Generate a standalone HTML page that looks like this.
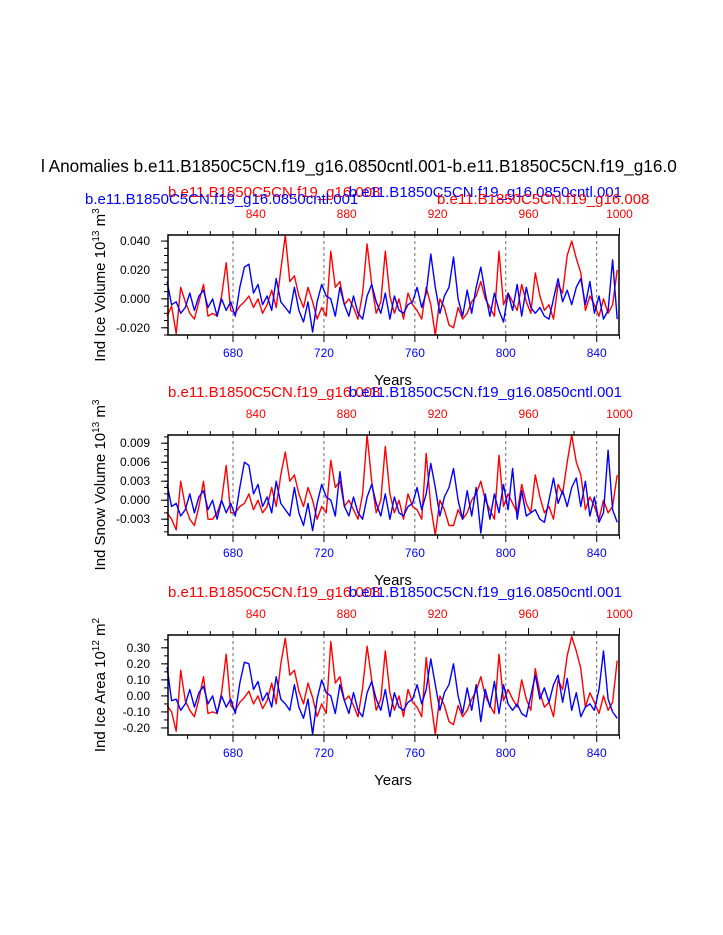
<!DOCTYPE html>
<html><head><meta charset="utf-8"><style>
html,body{margin:0;padding:0;background:#fff;overflow:hidden;width:723px;height:935px}
svg{display:block}
text{font-family:"Liberation Sans",sans-serif}
</style></head><body>
<svg id="chart" width="723" height="935" xmlns="http://www.w3.org/2000/svg"></svg>
<script>
const years = [];
for (let y = 651; y <= 849; y += 2) years.push(y);
const bottomTicks = [680, 720, 760, 800, 840];
const topTicks = [840, 880, 920, 960, 1000];
const topOffset = 150;

const volRed = [-12,-5,-24,8,-2,-10,-14,-2,10,-12,-10,-12,2,25,-8,-10,-5,-2,2,-6,0,-10,-4,6,-6,20,44,12,16,2,-6,8,-2,-14,-6,-12,33,8,12,-4,0,-6,-14,4,38,10,-10,-2,33,2,-10,0,-14,4,-4,-8,-14,8,-4,-25,0,-6,-18,-20,-6,-14,-10,-2,2,12,0,-6,-12,33,-4,4,-2,-8,10,-2,-10,18,2,-8,-4,-14,10,4,30,40,28,18,-8,2,-4,-12,0,-10,-4,20];
const volBlue = [12,-4,-2,-10,-6,4,-8,2,6,-6,0,-12,0,-8,-2,-12,8,22,24,4,10,-4,2,-8,14,-2,-6,-10,8,-8,-16,-2,-23,-2,10,2,0,-12,8,-4,-12,2,-10,-14,2,10,-2,-10,4,-14,2,-8,-10,-4,-2,8,-6,4,31,8,-10,2,8,29,0,-12,6,-10,8,22,4,-12,4,-8,-16,4,-8,10,-12,8,-6,-10,-6,-12,-14,0,14,-2,6,-4,8,14,-4,12,-10,2,-14,-8,27,-14];
const snowRed = [-2,-3,-4.7,3,-1,-3,-4,-1,3,-3,-3,-2,0,5.5,-2,-2,-1,-0.5,1,-1.5,0,-2,-1,2,-1,4,7.6,3,4,1,-1,2,0,-3,-1,-2,6.3,2,3,-1,0,-1.5,-3,1,10.3,3,-2,0,8.5,1,-2,0,-3,1,-1,-1.5,-3,7.4,-1,-5.5,0,-1.5,-4,-4,-1.5,-3,-2,0,1,3,0,-1.5,-3,7.1,-1,1,-0.5,-2,2.5,-0.5,-2,4,0.5,-2,-1,-3,2.5,1,6,10.3,6,4,-1.5,0.5,-1,-3,0,-2,-1,4];
const snowBlue = [2.5,-1,-0.5,-2.5,-1.5,1,-2,0.5,1.5,-1.5,0,-3,0,-2,-0.5,-2.5,2,6,5.5,1,2.5,-1,0.5,-2,3,-0.5,-1.5,-2.5,2,-2,-4,-0.5,-4.8,-0.5,2.5,0.5,0,-2.5,4.5,-1,-2.5,0.5,-2,-3,0.5,2.5,-0.5,-2.5,1,-3,0.5,-2,-2.5,-1,-0.5,2,-1.5,1,5.8,2,-2.5,0.5,2,5,0,-3,1.5,-2.5,2,-5.2,1,-3,1,-2,2.5,-1.5,5,-3,1.5,-2.5,-2,-1.5,-3,-3.5,0,3.5,-0.5,1.5,-1,2,3.5,-1,3,-2.5,0.5,-3.5,-2,7.9,-1.5,-3.5];
const areaRed = [-6,-10,-22,16,-3,-9,-13,-2,12,-11,-10,-11,2,26,-6,-9,-4,-1,3,-5,0,-8,-3,8,-5,20,36,13,16,3,-5,8,-1,-13,-5,-11,34,8,12,-3,0,-6,-13,5,31,10,-9,-2,28,2,-9,0,-13,4,-4,-7,-13,24,-3,-24,0,-6,-16,-18,-6,-13,-9,-2,3,12,0,-6,-11,26,-3,4,-2,-7,10,-2,-9,17,2,-7,-4,-13,10,4,25,37,28,17,-7,2,-4,-11,0,-9,-4,22];
const areaBlue = [18,-3,-2,-9,-5,4,-7,2,6,-5,0,-11,0,-7,-2,-11,8,21,20,4,9,-3,2,-7,12,-2,-5,-9,7,-7,-14,-2,-24,-2,10,2,0,-11,7,-3,-11,2,-9,-13,2,9,-2,-9,4,-13,2,-7,-9,-4,-2,7,-5,4,23,7,-9,2,7,20,0,-11,5,-9,7,-16,4,-7,9,-11,7,-5,-9,-5,-11,-13,0,13,-2,5,-4,7,13,-4,11,-9,2,-13,-7,-5,-9,4,28,-2,-10,-14];

const volTicks = ["-0.020","0.000","0.020","0.040"];
const snowTicks = ["-0.003","0.000","0.003","0.006","0.009"];
const areaTicks = ["-0.20","-0.10","0.00","0.10","0.20","0.30"];

const NS = "http://www.w3.org/2000/svg";
const svg = document.getElementById("chart");
function mk(tag, attrs, parent) {
  const e = document.createElementNS(NS, tag);
  for (const k in attrs) e.setAttribute(k, attrs[k]);
  (parent || svg).appendChild(e);
  return e;
}
const X0 = 168, X1 = 619, YR0 = 651.4, YR1 = 849.8;
function xScale(yr) { return X0 + (yr - YR0) / (YR1 - YR0) * (X1 - X0); }

const title = mk("text", {x: 41, y: 172, "font-size": 17.2, fill: "#000"});
title.textContent = "l Anomalies b.e11.B1850C5CN.f19_g16.0850cntl.001-b.e11.B1850C5CN.f19_g16.0";



const panels = [
  {top: 235, name: "ice-volume", red: volRed, blue: volBlue, unit: 0.001, ymin: -0.025, ymax: 0.0442, ticks: volTicks, minorStep: 0.005, label: ["Ind Ice Volume 10", "13", " m", "3"], first: true},
  {top: 435, name: "snow-volume", red: snowRed, blue: snowBlue, unit: 0.001, ymin: -0.0055, ymax: 0.0103, ticks: snowTicks, minorStep: 0.001, label: ["Ind Snow Volume 10", "13", " m", "3"]},
  {top: 635, name: "ice-area", red: areaRed, blue: areaBlue, unit: 0.01, ymin: -0.244, ymax: 0.38, ticks: areaTicks, minorStep: 0.05, label: ["Ind Ice Area 10", "12", " m", "2"]}
];

panels.forEach(p => {
  const g = mk("g", {});
  
  
  const T = p.top, B = p.top + 100;
  const yS = v => B - (v - p.ymin) / (p.ymax - p.ymin) * 100;

  bottomTicks.forEach(t => {
    const l = mk("line", {x1: xScale(t), x2: xScale(t), y1: T, y2: B, stroke: "#444", "stroke-width": 0.8, "stroke-dasharray": "3,3"}, g);
    
    
  });
  [["red", p.red, "#ff0000"], ["blue", p.blue, "#0000ff"]].forEach(([nm, arr, col]) => {
    const pts = arr.map((v, i) => xScale(years[i]).toFixed(1) + "," + yS(v * p.unit).toFixed(1)).join(" ");
    const pl = mk("polyline", {points: pts, fill: "none", stroke: col, "stroke-width": 1.4, "stroke-linejoin": "round"}, g);
    
    
  });
  const fr = mk("rect", {x: X0, y: T, width: X1 - X0, height: 100, fill: "none", stroke: "#000", "stroke-width": 1.5}, g);
  
  
  for (let yr = 660; yr <= 850; yr += 10) {
    const major = bottomTicks.includes(yr);
    mk("line", {x1: xScale(yr), x2: xScale(yr), y1: B, y2: B + (major ? 7 : 4), stroke: "#000", "stroke-width": 1}, g);
  }
  bottomTicks.forEach(t => {
    const tx = mk("text", {x: xScale(t), y: B + 22, "font-size": 12, fill: "#0000ff", "text-anchor": "middle"}, g);
    tx.textContent = t;
    
    
  });
  for (let yr = 810; yr <= 1000; yr += 10) {
    const major = topTicks.includes(yr);
    const xx = xScale(yr - topOffset);
    mk("line", {x1: xx, x2: xx, y1: T, y2: T - (major ? 7 : 4), stroke: "#000", "stroke-width": 1}, g);
  }
  topTicks.forEach(t => {
    const tx = mk("text", {x: xScale(t - topOffset), y: T - 17, "font-size": 12, fill: "#ff0000", "text-anchor": "middle"}, g);
    tx.textContent = t;
    
    
  });
  const eps = 1e-9;
  for (let v = Math.ceil(p.ymin / p.minorStep) * p.minorStep; v <= p.ymax + eps; v += p.minorStep) {
    mk("line", {x1: X0, x2: X0 - 4, y1: yS(v), y2: yS(v), stroke: "#000", "stroke-width": 1}, g);
  }
  p.ticks.forEach(t => {
    const v = parseFloat(t);
    mk("line", {x1: X0, x2: X0 - 7, y1: yS(v), y2: yS(v), stroke: "#000", "stroke-width": 1}, g);
    const tx = mk("text", {x: X0 - 18, y: yS(v) + 4, "font-size": 12, fill: "#000", "text-anchor": "end"}, g);
    tx.textContent = t;
    
    
  });
  const yl = mk("text", {x: 0, y: 0, "font-size": 15, fill: "#000", "text-anchor": "middle", transform: `translate(105,${T + 50}) rotate(-90)`}, g);
  
  
  p.label.forEach((s, i) => {
    const ts = mk("tspan", i % 2 ? {"font-size": 10, dy: -6} : (i ? {dy: 6} : {}), yl);
    ts.textContent = s;
  });
  const xl = mk("text", {x: 393, y: B + 50, "font-size": 15, fill: "#000", "text-anchor": "middle"}, g);
  xl.textContent = "Years";
  
  
  const hy = T - 38;
  const h1 = mk("text", {x: 168, y: hy, "font-size": 15, fill: "#ff0000"}, g);
  h1.textContent = "b.e11.B1850C5CN.f19_g16.008";
  
  
  const h2 = mk("text", {x: 622, y: hy, "font-size": 15, fill: "#0000ff", "text-anchor": "end"}, g);
  h2.textContent = "b.e11.B1850C5CN.f19_g16.0850cntl.001";
  
  
  if (p.first) {
    const h3 = mk("text", {x: 85, y: hy + 7, "font-size": 15, fill: "#0000ff"}, g);
    h3.textContent = "b.e11.B1850C5CN.f19_g16.0850cntl.001";
    
    
    const h4 = mk("text", {x: 437, y: hy + 7, "font-size": 15, fill: "#ff0000"}, g);
    h4.textContent = "b.e11.B1850C5CN.f19_g16.008";
    
    
  }
});
</script>
</body></html>
